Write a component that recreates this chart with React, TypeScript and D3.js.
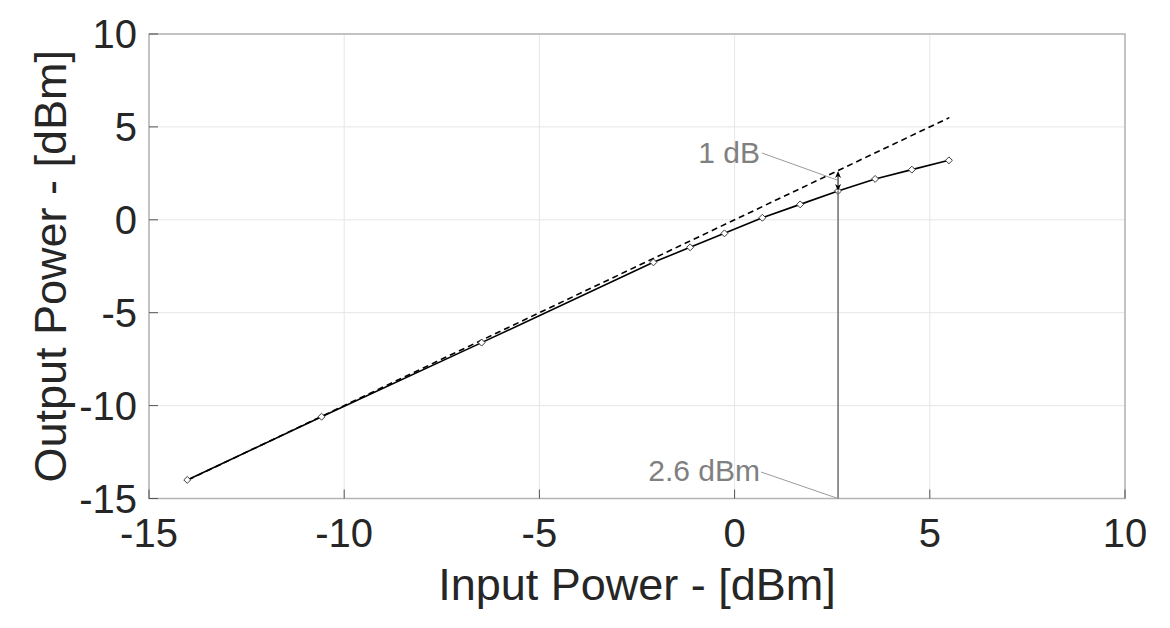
import React from "react";
import * as d3 from "d3";

const inputPower = [-14.02, -10.58, -6.48, -2.08, -1.14, -0.26, 0.71, 1.68, 2.65, 3.6, 4.54, 5.49];
const outputPower = [-14.0, -10.6, -6.61, -2.29, -1.48, -0.73, 0.11, 0.83, 1.55, 2.2, 2.7, 3.2];
const linearX = [-14.0, 5.5];
const linearY = [-14.0, 5.5];
const xTicks = [-15, -10, -5, 0, 5, 10];
const yTicks = [-15, -10, -5, 0, 5, 10];
const compressionX = 2.65;
const compressionLinearY = 2.62;
const compressionOutY = 1.55;
const labelDb = "1 dB";
const labelDbm = "2.6 dBm";

const W = 1170;
const H = 628;
const M = { left: 149, right: 1125, top: 34, bottom: 498.5 };
const FONT = "'Liberation Sans', Arial, Helvetica, sans-serif";

export default function App() {
  const x = d3.scaleLinear().domain([-15, 10]).range([M.left, M.right]);
  const y = d3.scaleLinear().domain([-15, 10]).range([M.bottom, M.top]);

  const pts = inputPower.map((v, i) => [v, outputPower[i]] as [number, number]);
  const lin = linearX.map((v, i) => [v, linearY[i]] as [number, number]);
  const line = d3
    .line<[number, number]>()
    .x((d) => x(d[0]))
    .y((d) => y(d[1]));

  const marker = d3.symbol().type(d3.symbolSquare).size(24)() as string;

  const cx = x(compressionX);
  const yTop = y(compressionLinearY);
  const yBot = y(compressionOutY);

  return (
    <svg
      width={W}
      height={H}
      style={{ position: "absolute", left: 0, top: 0, background: "#fff" }}
      fontFamily={FONT}
    >
      <rect x={0} y={0} width={W} height={H} fill="#fff" />
      {xTicks.map((t) => (
        <line key={"gx" + t} x1={x(t)} x2={x(t)} y1={M.top} y2={M.bottom} stroke="#e6e6e6" strokeWidth={1} />
      ))}
      {yTicks.map((t) => (
        <line key={"gy" + t} x1={M.left} x2={M.right} y1={y(t)} y2={y(t)} stroke="#e6e6e6" strokeWidth={1} />
      ))}
      <rect
        x={M.left}
        y={M.top}
        width={M.right - M.left}
        height={M.bottom - M.top}
        fill="none"
        stroke="#b4b4b4"
        strokeWidth={1.5}
      />
      {xTicks.map((t) => (
        <line key={"tx" + t} x1={x(t)} x2={x(t)} y1={M.bottom} y2={M.bottom - 9} stroke="#555" strokeWidth={1} />
      ))}
      {yTicks.map((t) => (
        <line key={"ty" + t} x1={M.left} x2={M.left + 9} y1={y(t)} y2={y(t)} stroke="#555" strokeWidth={1} />
      ))}
      {xTicks.map((t) => (
        <text key={"lx" + t} x={x(t)} y={547} textAnchor="middle" fontSize={40} fill="#262626">
          {t}
        </text>
      ))}
      {yTicks.map((t) => (
        <text
          key={"ly" + t}
          x={137}
          y={y(t)}
          dy="0.36em"
          textAnchor="end"
          fontSize={40}
          fill="#262626"
        >
          {t}
        </text>
      ))}
      <text x={(M.left + M.right) / 2} y={600} textAnchor="middle" fontSize={45} fill="#262626">
        Input Power - [dBm]
      </text>
      <text
        transform={`translate(66, ${(M.top + M.bottom) / 2}) rotate(-90)`}
        textAnchor="middle"
        fontSize={45}
        fill="#262626"
      >
        Output Power - [dBm]
      </text>

      <path d={line(lin) as string} fill="none" stroke="#000" strokeWidth={1.6} strokeDasharray="6,4" />
      <path d={line(pts) as string} fill="none" stroke="#000" strokeWidth={1.6} />
      {pts.map((p, i) => (
        <path
          key={"m" + i}
          d={marker}
          transform={`translate(${x(p[0])},${y(p[1])}) rotate(45)`}
          fill="#fff"
          stroke="#333"
          strokeWidth={0.9}
        />
      ))}

      <line x1={cx} x2={cx} y1={M.bottom} y2={yBot} stroke="#6e6e6e" strokeWidth={1.5} />
      <line x1={cx} x2={cx} y1={yTop + 2} y2={yBot - 2} stroke="#000" strokeWidth={1} />
      <path d={`M${cx},${yTop} l-3,7 l3,-2 l3,2 z`} fill="#000" />
      <path d={`M${cx},${yBot} l-3,-7 l3,2 l3,-2 z`} fill="#000" />

      <line x1={762} y1={153} x2={cx - 1} y2={180} stroke="#9a9a9a" strokeWidth={1} />
      <text x={760} y={163} textAnchor="end" fontSize={30} fill="#808080">
        {labelDb}
      </text>
      <line x1={761} y1={472} x2={cx} y2={M.bottom} stroke="#9a9a9a" strokeWidth={1} />
      <text x={760} y={481} textAnchor="end" fontSize={30} fill="#808080">
        {labelDbm}
      </text>
    </svg>
  );
}
